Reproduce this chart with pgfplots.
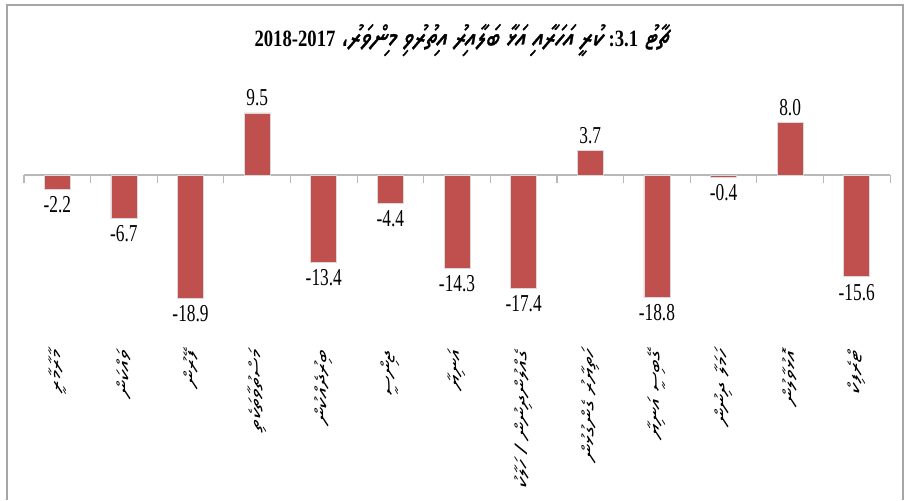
\documentclass[border=0pt]{standalone}
\usepackage{pgfplots}
\pgfplotsset{compat=1.18}
\usepackage{fontspec}
\usepackage{graphicx}
\setmainfont{Liberation Serif}
\newfontfamily\djv{DejaVu Sans}
\newfontfamily\dv[Script=Thaana, FakeSlant=0.2]{Noto Sans Thaana}
\newfontfamily\dvb[Script=Thaana, FakeSlant=0.2, FakeBold=1.2]{Noto Sans Thaana}
\TeXXeTstate=1
\definecolor{barred}{HTML}{C0504D}
\newcommand\lab[1]{\scalebox{1.4}[1]{\fontsize{13}{13}\selectfont\dv\beginR #1\endR}}
\newcommand\tnum{\rmfamily\bfseries\fontsize{14}{15}\selectfont}
\newcommand\tdv{\dvb\fontsize{18.5}{19}\selectfont}
\begin{document}
\begin{tikzpicture}
\begin{axis}[
  scale only axis,
  width=649.5pt, height=171.4pt,
  xmin=-0.5, xmax=12.5, ymin=-25, ymax=10,
  axis x line=middle, axis y line=none,
  x axis line style={-, black!28, line width=1.1pt},
  xtick={0,...,12}, major tick length=0pt,
  minor xtick={-0.5,0.5,...,12.5}, minor tick length=6pt,
  xtick align=outside,
  minor tick style={black!28, line width=0.8pt},
  xticklabels={\lab{މާރާމާރީ},\lab{ވައްކަން},\lab{ފޭރުން},\lab{މަސްތުވާތަކެތި},\lab{ބިރުދެއްކުން},\lab{ޖިންސީ},\lab{އަނިޔާ},\lab{ގެއްލުންދިނުން / ހަލާކު},\lab{ހަތިޔާރު ގެންގުޅުން},\lab{ގޭބިސީ އަނިޔާ},\lab{ހަމަލާ ދިނުން},\lab{އޮޅުވާލުން},\lab{ޓްރެފިކް}},
  xticklabel style={rotate=90, anchor=east, inner sep=0pt},
  xticklabel shift=132pt,
  ybar, bar width=19.5pt,
  clip=false,
  point meta=y,
  /pgf/number format/.cd, fixed, fixed zerofill, precision=1, assume math mode=true, /pgfplots/.cd,
  nodes near coords={\scalebox{1}[1.4]{\pgfmathprintnumber{\pgfplotspointmeta}}},
  nodes near coords align=vertical,
  every node near coord/.append style={font=\fontsize{13}{13}\selectfont, black, inner sep=5pt},
]
\addplot[fill=barred, draw=white!85!black, line width=0.6pt] coordinates {
 (0,-2.2) (1,-6.7) (2,-18.9) (3,9.5) (4,-13.4) (5,-4.4) (6,-14.3)
 (7,-17.4) (8,3.7) (9,-18.8) (10,-0.4) (11,8.0) (12,-15.6)
};
\coordinate (BL) at (axis cs:-0.860,-49.77);
\coordinate (TR) at (axis cs:12.754,26.80);
\draw[black!35, line width=0.8pt] (axis cs:-0.755,-49.77) -- (axis cs:-0.755,26.03) -- (axis cs:12.694,26.03) -- (axis cs:12.694,-49.77);
\node at (axis cs:6.07,20.67) {\scalebox{1}[1.25]{\tdv\beginR ޗާޓު \tnum\beginL 3.1\endL: \tdv ކުރީ އަހަރާއި އަޅާ ބަލާއިރު އިތުރުވި މިންވަރު{\djv\fontsize{12}{12}\selectfont ،} \tnum\beginL 2018-2017\endL\endR}};
\end{axis}
\pgfresetboundingbox
\path (BL) rectangle (TR);
\end{tikzpicture}
\end{document}
